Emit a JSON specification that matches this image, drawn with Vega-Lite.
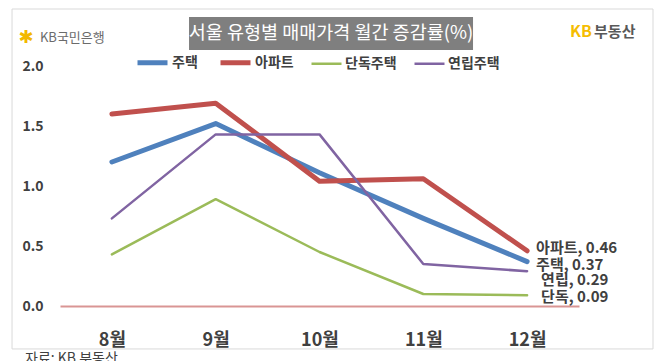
{
  "$schema": "https://vega.github.io/schema/vega-lite/v6.json",
  "width": 519,
  "height": 240,
  "autosize": {"type": "none"},
  "padding": {"left": 60, "top": 66, "right": 87, "bottom": 55},
  "background": "white",
  "config": {
    "view": {"stroke": null},
    "font": "Noto Sans CJK KR",
    "legend": {
      "orient": "none",
      "direction": "horizontal",
      "legendX": 75,
      "legendY": -21,
      "title": null,
      "labelFont": "Noto Sans CJK KR",
      "labelFontSize": 14,
      "labelFontWeight": "bold",
      "labelColor": "#404040",
      "symbolType": "stroke",
      "symbolSize": 900,
      "labelOffset": 2,
      "columnPadding": 12
    }
  },
  "datasets": {
    "rates": [
      {"series": "주택", "month": 8, "value": 1.20},
      {"series": "주택", "month": 9, "value": 1.52},
      {"series": "주택", "month": 10, "value": 1.11},
      {"series": "주택", "month": 11, "value": 0.73},
      {"series": "주택", "month": 12, "value": 0.37, "label": "주택, 0.37"},
      {"series": "아파트", "month": 8, "value": 1.60},
      {"series": "아파트", "month": 9, "value": 1.69},
      {"series": "아파트", "month": 10, "value": 1.04},
      {"series": "아파트", "month": 11, "value": 1.06},
      {"series": "아파트", "month": 12, "value": 0.46, "label": "아파트, 0.46"},
      {"series": "단독주택", "month": 8, "value": 0.43},
      {"series": "단독주택", "month": 9, "value": 0.89},
      {"series": "단독주택", "month": 10, "value": 0.45},
      {"series": "단독주택", "month": 11, "value": 0.10},
      {"series": "단독주택", "month": 12, "value": 0.09, "label": "단독, 0.09"},
      {"series": "연립주택", "month": 8, "value": 0.73},
      {"series": "연립주택", "month": 9, "value": 1.43},
      {"series": "연립주택", "month": 10, "value": 1.43},
      {"series": "연립주택", "month": 11, "value": 0.35},
      {"series": "연립주택", "month": 12, "value": 0.29, "label": "연립, 0.29"}
    ]
  },
  "layer": [
    {
      "data": {"values": [{}]},
      "mark": {"type": "rect", "fill": null, "stroke": "#d9d9d9", "strokeWidth": 1},
      "encoding": {
        "x": {"datum": 7.038, "type": "quantitative", "scale": {"domain": [7.5, 12.5]}},
        "x2": {"datum": 13.213},
        "y": {"datum": 2.475, "type": "quantitative", "scale": {"domain": [0, 2]}},
        "y2": {"datum": -0.358}
      }
    },
    {
      "data": {"values": [{}]},
      "mark": {"type": "rect", "fill": "#7f7f7f"},
      "encoding": {
        "x": {"datum": 8.743, "type": "quantitative", "scale": {"domain": [7.5, 12.5]}},
        "x2": {"datum": 11.479},
        "y": {"datum": 2.408, "type": "quantitative", "scale": {"domain": [0, 2]}},
        "y2": {"datum": 2.133}
      }
    },
    {
      "data": {"values": [{}]},
      "mark": {"type": "text", "text": "서울 유형별 매매가격 월간 증감률(%)", "color": "white", "fontSize": 18.5, "font": "Noto Sans CJK KR", "align": "center", "baseline": "middle"},
      "encoding": {
        "x": {"datum": 10.111, "type": "quantitative", "scale": {"domain": [7.5, 12.5]}},
        "y": {"datum": 2.271, "type": "quantitative", "scale": {"domain": [0, 2]}}
      }
    },
    {
      "data": {"values": [{}]},
      "mark": {"type": "text", "text": "✱", "color": "#f2b800", "fontSize": 18, "font": "DejaVu Sans", "align": "center", "baseline": "middle"},
      "encoding": {
        "x": {"datum": 7.172, "type": "quantitative", "scale": {"domain": [7.5, 12.5]}},
        "y": {"datum": 2.233, "type": "quantitative", "scale": {"domain": [0, 2]}}
      }
    },
    {
      "data": {"values": [{}]},
      "mark": {"type": "text", "text": "KB국민은행", "color": "#6b6b6b", "fontSize": 13, "font": "Noto Sans CJK KR", "align": "left", "baseline": "middle"},
      "encoding": {
        "x": {"datum": 7.307, "type": "quantitative", "scale": {"domain": [7.5, 12.5]}},
        "y": {"datum": 2.233, "type": "quantitative", "scale": {"domain": [0, 2]}}
      }
    },
    {
      "data": {"values": [{}]},
      "mark": {"type": "text", "text": "KB", "color": "#f5bd00", "fontSize": 16, "fontWeight": "bold", "font": "Noto Sans CJK KR", "align": "left", "baseline": "middle"},
      "encoding": {
        "x": {"datum": 12.413, "type": "quantitative", "scale": {"domain": [7.5, 12.5]}},
        "y": {"datum": 2.283, "type": "quantitative", "scale": {"domain": [0, 2]}}
      }
    },
    {
      "data": {"values": [{}]},
      "mark": {"type": "text", "text": "부동산", "color": "#595959", "fontSize": 15, "fontWeight": "bold", "font": "Noto Sans CJK KR", "align": "left", "baseline": "middle"},
      "encoding": {
        "x": {"datum": 12.645, "type": "quantitative", "scale": {"domain": [7.5, 12.5]}},
        "y": {"datum": 2.283, "type": "quantitative", "scale": {"domain": [0, 2]}}
      }
    },
    {
      "data": {"values": [{}]},
      "mark": {"type": "text", "text": "자료: KB 부동산", "color": "#404040", "fontSize": 14, "font": "Noto Sans CJK KR", "align": "left", "baseline": "top"},
      "encoding": {
        "x": {"datum": 7.163, "type": "quantitative", "scale": {"domain": [7.5, 12.5]}},
        "y": {"datum": -0.383, "type": "quantitative", "scale": {"domain": [0, 2]}}
      }
    },
    {
      "data": {"name": "rates"},
      "mark": {"type": "line", "strokeJoin": "round", "strokeCap": "round"},
      "encoding": {
        "x": {
          "field": "month", "type": "quantitative",
          "scale": {"domain": [7.5, 12.5]},
          "axis": {
            "values": [8, 9, 10, 11, 12],
            "labelExpr": "datum.value + '월'",
            "title": null, "ticks": false, "grid": false, "domain": true,
            "domainColor": "#d99594", "domainWidth": 2,
            "labelFont": "Noto Sans CJK KR", "labelFontSize": 18, "labelFontWeight": "bold",
            "labelColor": "#404040", "labelPadding": 25
          }
        },
        "y": {
          "field": "value", "type": "quantitative",
          "scale": {"domain": [0, 2]},
          "axis": {
            "values": [0, 0.5, 1, 1.5, 2], "format": ".1f",
            "title": null, "ticks": false, "grid": false, "domain": false,
            "labelFont": "Noto Sans CJK KR", "labelFontSize": 14, "labelFontWeight": "bold",
            "labelColor": "#404040", "labelPadding": 17
          }
        },
        "color": {
          "field": "series", "type": "nominal",
          "scale": {"domain": ["주택", "아파트", "단독주택", "연립주택"], "range": ["#4f81bd", "#c0504d", "#9bbb59", "#8064a2"]}
        },
        "strokeWidth": {
          "field": "series", "type": "nominal",
          "scale": {"type": "ordinal", "domain": ["주택", "아파트", "단독주택", "연립주택"], "range": [5, 5, 2.5, 2.5]}
        }
      }
    },
    {
      "data": {"name": "rates"},
      "transform": [{"filter": "datum.label"}],
      "mark": {
        "type": "text", "align": "left", "baseline": "middle",
        "font": "Noto Sans CJK KR", "fontSize": 15, "fontWeight": "bold", "color": "#404040",
        "dx": {"expr": "datum.series === '연립주택' || datum.series === '단독주택' ? 14 : 9"},
        "dy": {"expr": "datum.series === '아파트' ? -3 : datum.series === '주택' ? 3 : datum.series === '연립주택' ? 9 : 2"}
      },
      "encoding": {
        "x": {"field": "month", "type": "quantitative", "scale": {"domain": [7.5, 12.5]}},
        "y": {"field": "value", "type": "quantitative", "scale": {"domain": [0, 2]}},
        "text": {"field": "label"}
      }
    }
  ]
}
